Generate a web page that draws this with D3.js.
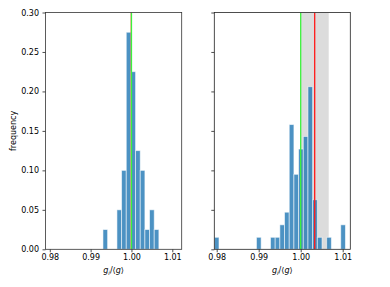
<!DOCTYPE html>
<html>
<head>
<meta charset="utf-8">
<script src="https://cdn.jsdelivr.net/npm/d3@7"></script>
<style>
  body { margin: 0; background: #fff; }
  svg text { font-family: "DejaVu Sans", sans-serif; fill: #000; }
</style>
</head>
<body>
<svg id="chart" width="390" height="287"></svg>
<script>
// ---- data ----
let yTicks = [0, 0.05, 0.10, 0.15, 0.20, 0.25, 0.30];
let xTicks = [0.98, 0.99, 1.00, 1.01];

// left panel histogram (12 bins)
let leftBinStart = 0.99302;
let leftBinWidth = 0.001141;
let leftFreq = [0.025, 0, 0, 0.05, 0.10, 0.275, 0.225, 0.125, 0.10, 0.025, 0.05, 0.025];
let leftRef = 1.0;
let leftMean = 0.99997;

// right panel histogram (28 bins)
let rightBinStart = 0.97943;
let rightBinWidth = 0.001115;
let rightFreq = [0.0152, 0, 0, 0, 0, 0, 0, 0, 0, 0.0152, 0, 0, 0.0152, 0.0152,
                 0.031, 0.047, 0.158, 0.095, 0.127, 0.143, 0.206, 0.0628, 0.0152,
                 0, 0.0152, 0, 0, 0.031];
let rightRef = 1.0;
let rightMean = 1.00333;
let rightBand = [1.0, 1.00667];

let svg = d3.select('#chart');

let plotTop = 12.5, plotBottom = 249.3;
let y = d3.scaleLinear().domain([0, 0.30]).range([plotBottom, plotTop]);

function drawPanel(opts) {
  let x = d3.scaleLinear().domain(opts.domain).range(opts.range);
  let g = svg.append('g');

  let clipId = 'clip-' + opts.name;
  svg.append('clipPath').attr('id', clipId)
    .append('rect')
    .attr('x', opts.range[0]).attr('y', plotTop)
    .attr('width', opts.range[1] - opts.range[0])
    .attr('height', plotBottom - plotTop);

  let inner = g.append('g').attr('clip-path', `url(#${clipId})`);

  // grey spread band
  if (opts.band) {
    inner.append('rect')
      .attr('x', x(opts.band[0]))
      .attr('y', plotTop)
      .attr('width', x(opts.band[1]) - x(opts.band[0]))
      .attr('height', plotBottom - plotTop)
      .attr('fill', '#dcdcdc');
  }

  // histogram bars
  let bins = opts.freq.map((f, i) => ({
    x0: opts.binStart + i * opts.binWidth,
    x1: opts.binStart + (i + 1) * opts.binWidth,
    f: f
  })).filter(d => d.f > 0);

  inner.selectAll('rect.bar')
    .data(bins)
    .join('rect')
    .attr('class', 'bar')
    .attr('x', d => x(d.x0))
    .attr('y', d => y(d.f))
    .attr('width', d => x(d.x1) - x(d.x0))
    .attr('height', d => y(0) - y(d.f))
    .attr('fill', '#1f77b4')
    .attr('fill-opacity', 0.8)
    .attr('stroke', '#ffffff')
    .attr('stroke-opacity', 0.6)
    .attr('stroke-width', 0.9);

  // mean line (red) and reference line (green)
  inner.append('line')
    .attr('x1', x(opts.mean)).attr('x2', x(opts.mean))
    .attr('y1', plotTop).attr('y2', plotBottom)
    .attr('stroke', '#ff1a1a').attr('stroke-width', 1.3);
  inner.append('line')
    .attr('x1', x(opts.ref)).attr('x2', x(opts.ref))
    .attr('y1', plotTop).attr('y2', plotBottom)
    .attr('stroke', '#3cf23c').attr('stroke-width', 1.3);

  // x axis
  let xAxis = d3.axisBottom(x)
    .tickValues(xTicks)
    .tickFormat(d3.format('.2f'))
    .tickSize(3)
    .tickPadding(2.5);
  let gx = g.append('g')
    .attr('transform', `translate(0,${plotBottom})`)
    .call(xAxis);
  gx.select('.domain').remove();
  gx.selectAll('.tick line').attr('stroke', '#222').attr('stroke-width', 0.8);
  gx.selectAll('.tick text').attr('font-size', 8);

  // y axis
  let yAxis = d3.axisLeft(y)
    .tickValues(yTicks)
    .tickFormat(opts.yLabels ? d3.format('.2f') : '')
    .tickSize(3)
    .tickPadding(3.5);
  let gy = g.append('g')
    .attr('transform', `translate(${opts.range[0]},0)`)
    .call(yAxis);
  gy.select('.domain').remove();
  gy.selectAll('.tick line').attr('stroke', '#222').attr('stroke-width', 0.8);
  gy.selectAll('.tick text').attr('font-size', 8);

  // frame
  g.append('rect')
    .attr('x', opts.range[0]).attr('y', plotTop)
    .attr('width', opts.range[1] - opts.range[0])
    .attr('height', plotBottom - plotTop)
    .attr('fill', 'none')
    .attr('stroke', opts.frameColor)
    .attr('stroke-width', 0.8);

  // x label  g_i/<g>
  let cx = (opts.range[0] + opts.range[1]) / 2;
  let lab = g.append('text')
    .attr('x', cx).attr('y', 273)
    .attr('text-anchor', 'middle')
    .attr('font-size', 8);
  lab.append('tspan').attr('font-style', 'italic').text('g');
  lab.append('tspan').attr('font-style', 'italic').attr('font-size', 5.6).attr('dy', 1.5).text('i');
  lab.append('tspan').attr('dy', -1.5).text('/⟨');
  lab.append('tspan').attr('font-style', 'italic').text('g');
  lab.append('tspan').text('⟩');
}

drawPanel({
  name: 'left',
  domain: [0.97895, 1.0123],
  range: [45.5, 181.7],
  freq: leftFreq,
  binStart: leftBinStart,
  binWidth: leftBinWidth,
  mean: leftMean,
  ref: leftRef,
  yLabels: true,
  frameColor: '#333'
});

drawPanel({
  name: 'right',
  domain: [0.97943, 1.01181],
  range: [214.3, 350.3],
  freq: rightFreq,
  binStart: rightBinStart,
  binWidth: rightBinWidth,
  mean: rightMean,
  ref: rightRef,
  band: rightBand,
  yLabels: false,
  frameColor: '#222'
});

// y label
svg.append('text')
  .attr('transform', `translate(16,${(plotTop + plotBottom) / 2}) rotate(-90)`)
  .attr('text-anchor', 'middle')
  .attr('font-size', 8)
  .text('frequency');
</script>
</body>
</html>
